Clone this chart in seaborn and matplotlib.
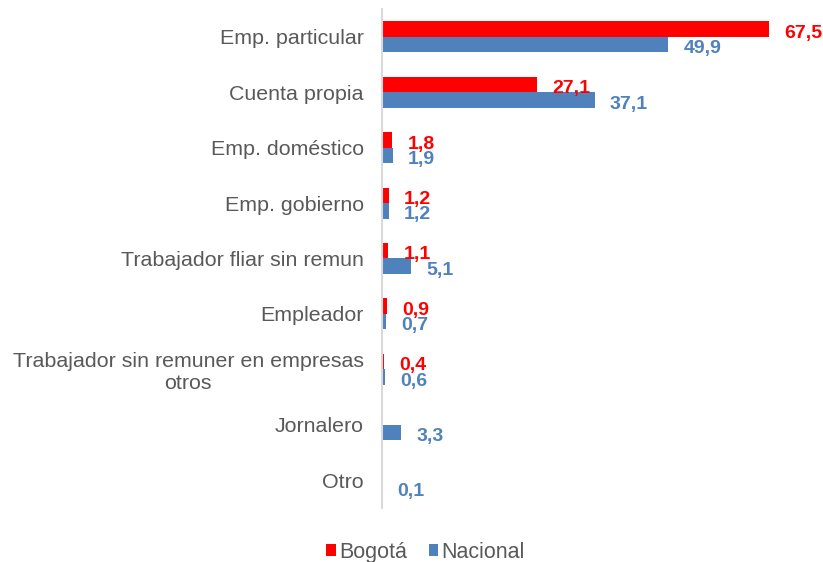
import numpy as np
import pandas as pd
import seaborn as sns
import matplotlib.pyplot as plt

# Datos
categorias = [
    "Emp. particular",
    "Cuenta propia",
    "Emp. doméstico",
    "Emp. gobierno",
    "Trabajador fliar sin remun",
    "Empleador",
    "Trabajador sin remuner en empresas\notros",
    "Jornalero",
    "Otro",
]
bogota = [67.5, 27.1, 1.8, 1.2, 1.1, 0.9, 0.4, np.nan, np.nan]
nacional = [49.9, 37.1, 1.9, 1.2, 5.1, 0.7, 0.6, 3.3, 0.1]
series = ["Bogotá", "Nacional"]
colores = {"Bogotá": "#FF0000", "Nacional": "#4F81BD"}

df = pd.DataFrame({
    "categoria": categorias * 2,
    "valor": bogota + nacional,
    "serie": [series[0]] * len(categorias) + [series[1]] * len(categorias),
})

sns.set_style("white")
plt.rcParams["font.family"] = ["Liberation Sans", "DejaVu Sans"]

fig = plt.figure(figsize=(8.23, 5.62), dpi=100)
ax = fig.add_axes([0.464, 0.0966, 0.526, 0.887])

sns.barplot(
    data=df, x="valor", y="categoria", hue="serie", order=categorias,
    hue_order=series, palette=colores, orient="h", width=0.56,
    saturation=1, linewidth=0, ax=ax, legend=True,
)

ax.set_xlim(0, 75.5)
ax.set_xlabel("")
ax.set_ylabel("")
ax.set_xticks([])
for s in ["top", "right", "bottom"]:
    ax.spines[s].set_visible(False)
ax.spines["left"].set_color("#D9D9D9")
ax.spines["left"].set_linewidth(1.5)
ax.tick_params(axis="y", length=0, pad=13, labelsize=15.4, labelcolor="#595959")
for lbl in ax.get_yticklabels():
    lbl.set_multialignment("center")

# Etiquetas de datos
for cont, serie in zip(ax.containers, series):
    for bar in cont:
        w = bar.get_width()
        if np.isnan(w):
            continue
        y = bar.get_y() + bar.get_height() / 2
        ax.annotate(
            f"{w:.1f}".replace(".", ","), (w, y), xytext=(11, -1.5),
            textcoords="offset points", ha="left", va="center_baseline",
            fontsize=14, fontweight="bold", color=colores[serie],
        )

handles, labels = ax.get_legend_handles_labels()
ax.legend_.remove()
fig.legend(
    handles, labels, loc="center", bbox_to_anchor=(0.517, 0.017), ncol=2,
    frameon=False, fontsize=15.5, handlelength=0.45, handleheight=0.45,
    handletextpad=0.15, columnspacing=1.0, labelcolor="#595959",
)

fig.savefig("out.png", dpi=100)
